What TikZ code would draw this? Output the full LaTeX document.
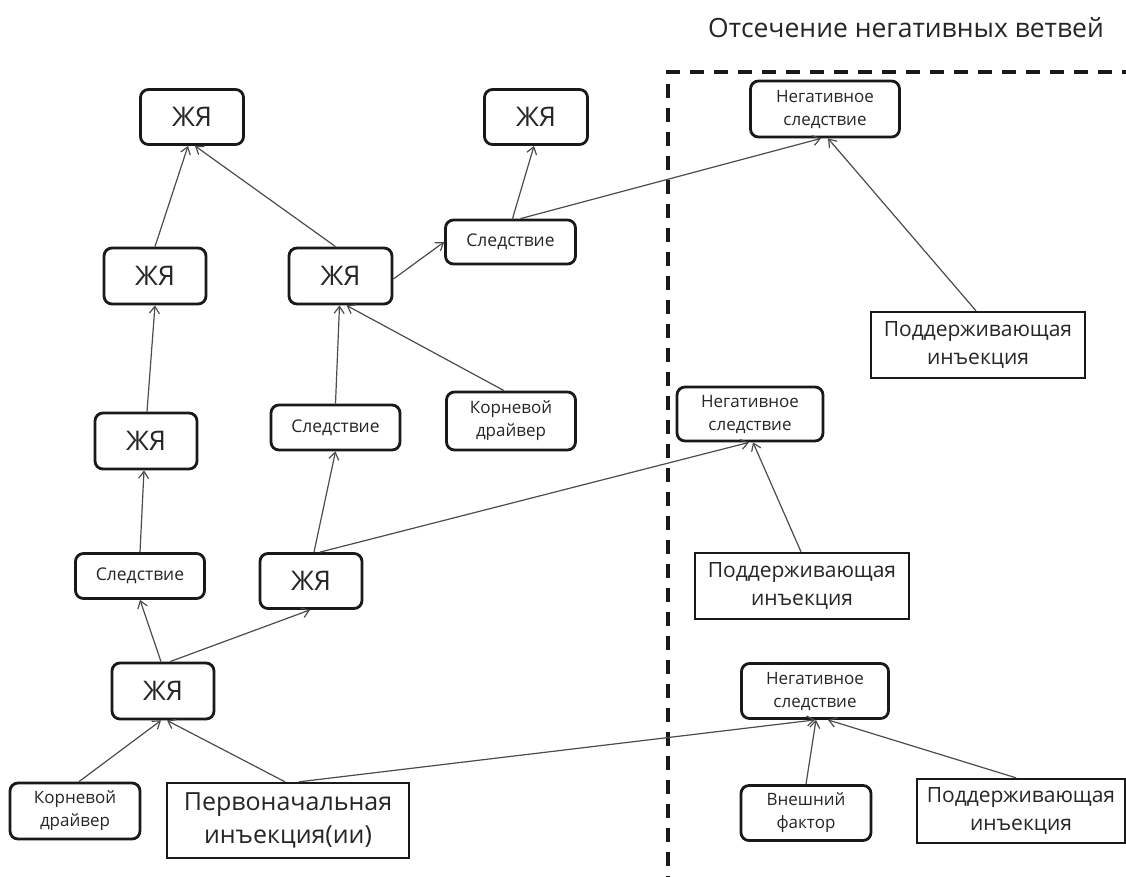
\documentclass[tikz,border=0pt]{standalone}
\usepackage{fontspec}
\setmainfont{Open Sans}
\usetikzlibrary{arrows.meta}
\tikzset{
  rbox/.style={draw=black!90, line width=2.8pt, rounded corners=8pt, fill=white,
    inner sep=0pt, align=center, text=black!85},
  sbox/.style={draw=black!90, line width=2.4pt, fill=white,
    inner sep=0pt, align=center, text=black!85},
  fbig/.style={font=\fontsize{27}{30}\selectfont},
  fsmall/.style={font=\fontsize{17}{23}\selectfont},
  fsl/.style={font=\fontsize{17.5}{23}\selectfont},
  fmid/.style={font=\fontsize{21}{28}\selectfont},
  fpi/.style={font=\fontsize{25}{33}\selectfont},
  ftitle/.style={font=\fontsize{26.5}{30}\selectfont},
  arr/.style={draw=black!70, line width=1.2pt, -{Straight Barb[length=7pt,width=10pt]}},
  sepline/.style={draw=black!90, line width=4pt, dash pattern=on 14pt off 10pt}
}
\begin{document}
\begin{tikzpicture}[x=1pt,y=-1pt]
\clip (0,0) rectangle (1126,876);
\fill[white] (0,0) rectangle (1126,876);

% title and separator
\node[ftitle, text=black!85] (title) at (906,28) {Отсечение негативных ветвей};
\draw[sepline] (668,890) -- (668,72) -- (1140,72);

% left tree
\node[rbox, fbig, minimum width=103pt, minimum height=55pt] (j1) at (192,117) {ЖЯ};
\node[rbox, fbig, minimum width=103pt, minimum height=55pt] (j2) at (536,117) {ЖЯ};
\node[rbox, fsl, minimum width=130pt, minimum height=44pt] (sl1) at (510.5,242) {Следствие};
\node[rbox, fbig, minimum width=102pt, minimum height=56pt] (j3) at (155,276) {ЖЯ};
\node[rbox, fbig, minimum width=103pt, minimum height=56pt] (j4) at (340.5,276) {ЖЯ};
\node[rbox, fbig, minimum width=102pt, minimum height=56pt] (j5) at (146,441) {ЖЯ};
\node[rbox, fsl, minimum width=129pt, minimum height=45pt] (sl2) at (335.5,427.5) {Следствие};
\node[rbox, fsmall, minimum width=129pt, minimum height=58pt] (kd1) at (511,421) {Корневой\\драйвер};
\node[rbox, fsl, minimum width=129pt, minimum height=45pt] (sl3) at (140,576) {Следствие};
\node[rbox, fbig, minimum width=102pt, minimum height=55pt] (j6) at (311,581) {ЖЯ};
\node[rbox, fbig, minimum width=102pt, minimum height=56pt] (j7) at (163,691) {ЖЯ};
\node[rbox, fsmall, minimum width=130pt, minimum height=56pt] (kd2) at (75,811) {Корневой\\драйвер};
\node[sbox, fpi, minimum width=242pt, minimum height=75pt] (pi) at (288,820.5) {Первоначальная\\инъекция(ии)};

% right part
\node[rbox, fsmall, minimum width=149pt, minimum height=56pt] (ns1) at (825,109) {Негативное\\следствие};
\node[sbox, fmid, minimum width=214pt, minimum height=66pt] (pod1) at (978,345) {Поддерживающая\\инъекция};
\node[rbox, fsmall, minimum width=146pt, minimum height=54pt] (ns2) at (750,414) {Негативное\\следствие};
\node[sbox, fmid, minimum width=214pt, minimum height=66pt] (pod2) at (802,586) {Поддерживающая\\инъекция};
\node[rbox, fsmall, minimum width=147pt, minimum height=55pt] (ns3) at (815,691) {Негативное\\следствие};
\node[rbox, fsmall, minimum width=130pt, minimum height=55pt] (vf) at (806,813) {Внешний\\фактор};
\node[sbox, fmid, minimum width=208pt, minimum height=64pt] (pod3) at (1021,811) {Поддерживающая\\инъекция};

% connectors
\draw[arr] (j3.north) -- ([xshift=-4pt]j1.south);
\draw[arr] ([xshift=-5pt]j4.north) -- ([xshift=3pt]j1.south);
\draw[arr] ([yshift=-3pt]j4.east) -- (sl1.west);
\draw[arr] ([xshift=2pt]sl1.north) -- ([xshift=-2pt]j2.south);
\draw[arr] ([xshift=10pt]sl1.north) -- ([xshift=-4pt]ns1.south);
\draw[arr] ([xshift=-2pt]pod1.north) -- ([xshift=3pt]ns1.south);
\draw[arr] ([xshift=1pt]j5.north) -- (j3.south);
\draw[arr] (sl2.north) -- ([xshift=-1pt]j4.south);
\draw[arr] ([xshift=-7pt]kd1.north) -- ([xshift=6pt]j4.south);
\draw[arr] (sl3.north) -- ([xshift=-2pt]j5.south);
\draw[arr] ([xshift=3pt]j6.north) -- (sl2.south);
\draw[arr] ([xshift=9pt]j6.north) -- ([xshift=-1pt]ns2.south);
\draw[arr] ([xshift=-1pt]pod2.north) -- ([xshift=3pt]ns2.south);
\draw[arr] ([xshift=-2pt]j7.north) -- (sl3.south);
\draw[arr] ([xshift=7pt]j7.north) -- ([xshift=-1pt]j6.south);
\draw[arr] ([xshift=4pt]kd2.north) -- ([xshift=-2pt]j7.south);
\draw[arr] ([xshift=-3pt]pi.north) -- ([xshift=4pt]j7.south);
\draw[arr] ([xshift=11pt]pi.north) -- (ns3.south);
\draw[arr] (vf.north) -- ([xshift=1pt]ns3.south);
\draw[arr] ([xshift=-5pt]pod3.north) -- ([xshift=13pt]ns3.south);
\end{tikzpicture}
\end{document}
